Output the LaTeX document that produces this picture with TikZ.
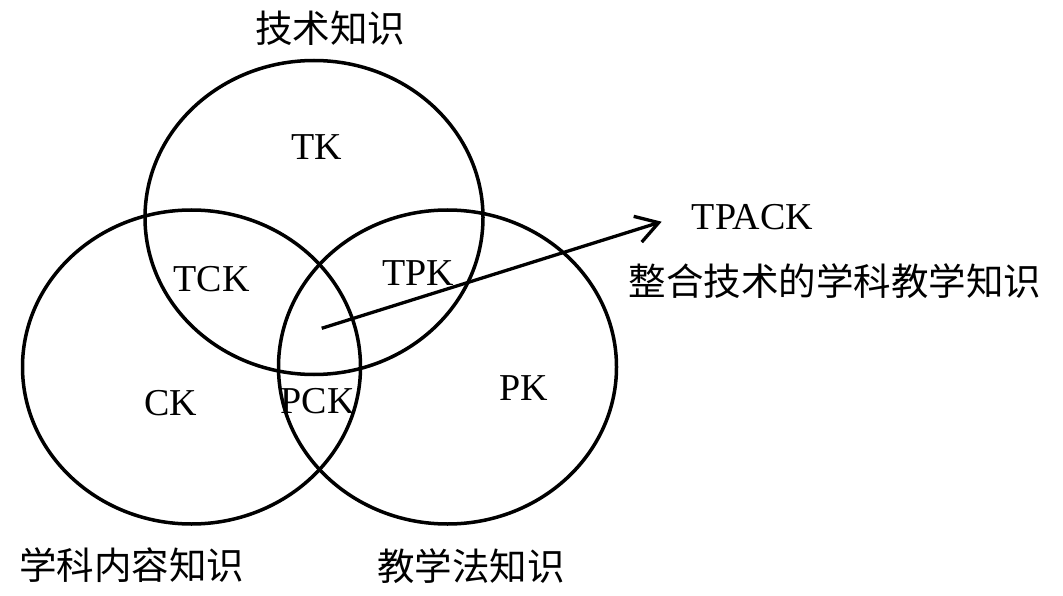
\documentclass[tikz,border=0pt]{standalone}
\usepackage{fontspec}
\setmainfont{Liberation Serif}
\newfontfamily\cjk{Noto Sans CJK SC}
\usetikzlibrary{shapes.geometric,arrows.meta}
\tikzset{
  venn/.style={ellipse, draw, line width=3.5pt, inner sep=0pt,
    minimum width=338pt, minimum height=314pt},
  lab/.style={font=\fontsize{38}{40}\selectfont, inner sep=0pt, anchor=base},
  clab/.style={font=\cjk\fontsize{37.5}{40}\selectfont, inner sep=0pt, anchor=base},
  pointer/.style={line width=3.3pt, -{Straight Barb[length=22pt,width=27pt,line width=3.3pt]}}
}
\begin{document}
\begin{tikzpicture}[x=1pt,y=-1pt]
\useasboundingbox (0,0) rectangle (1063,596);
\node[venn] (T) at (314,217.5) {};
\node[venn] (C) at (191.5,367) {};
\node[venn] (P) at (447.5,367) {};
\node[lab] (tk) at (316.5,160) {TK};
\node[lab] (tck) at (211.5,291) {TCK};
\node[lab] (ck) at (171,415) {CK};
\node[lab] (pck) at (317.5,413) {PCK};
\node[lab] (tpk) at (418,285) {TPK};
\node[lab] (pk) at (523.5,400) {PK};
\node[lab] (tpack) at (752.5,230) {TPACK};
\node[clab] (tl) at (330,42.5) {技术知识};
\node[clab] (cl) at (132,579.5) {学科内容知识};
\node[clab] (pl) at (471,580.5) {教学法知识};
\node[clab] (tpl) at (835,295.5) {整合技术的学科教学知识};
\coordinate (astart) at (321.7,328.3);
\coordinate (atip) at (661.7,221.7);
\draw[pointer] (astart) -- (atip);
\end{tikzpicture}
\end{document}
